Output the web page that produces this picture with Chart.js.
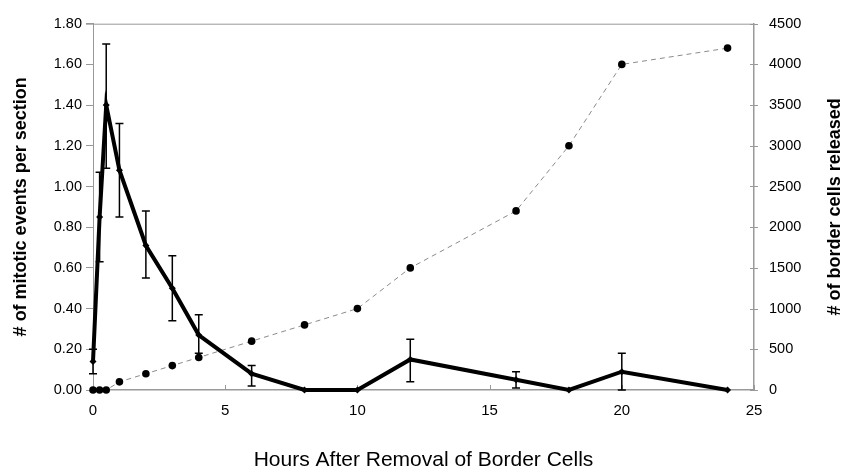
<!DOCTYPE html>
<html><head><meta charset="utf-8">
<script src="https://cdn.jsdelivr.net/npm/chart.js@4.4.1/dist/chart.umd.min.js"></script>
<style>html,body{margin:0;padding:0;background:#fff;} #wrap{width:854px;height:471px;}</style>
</head><body><div id="wrap"><canvas id="c" width="854" height="471"></canvas></div>
<script>
// ---- data ----
const hours = [0, 0.25, 0.5, 1, 2, 3, 4, 6, 8, 10, 12, 16, 18, 20, 24];
const mitoticMean = [0.14, 0.85, 1.40, 1.08, 0.71, 0.50, 0.27, 0.08, 0, 0, 0.15, 0.05, 0, 0.09, 0];
const mitoticHigh = [0.20, 1.07, 1.70, 1.31, 0.88, 0.66, 0.37, 0.12, null, null, 0.25, 0.09, null, 0.18, null];
const mitoticLow  = [0.08, 0.63, 1.09, 0.85, 0.55, 0.34, 0.18, 0.02, null, null, 0.04, 0.01, null, 0.00, null];
const cellsReleased = [0, 0, 0, 100, 200, 300, 400, 600, 800, 1000, 1500, 2200, 3000, 4000, 4200];
const xTickValues = [0, 5, 10, 15, 20, 25];
const leftTickValues = [0, 0.2, 0.4, 0.6, 0.8, 1.0, 1.2, 1.4, 1.6, 1.8];
const rightTickValues = [0, 500, 1000, 1500, 2000, 2500, 3000, 3500, 4000, 4500];
const xTitle = 'Hours After Removal of Border Cells';
const leftTitle = '# of mitotic events per section';
const rightTitle = '# of border cells released';

const FONT = "'Liberation Sans', Arial, sans-serif";
const AXIS = '#999999';

const mitoticPts = hours.map((h, i) => ({x: h, y: mitoticMean[i]}));
const cellsPts = hours.map((h, i) => ({x: h, y: cellsReleased[i]}));

const extras = {
  id: 'extras',
  beforeDatasetsDraw(chart) {
    const {ctx, chartArea: a, scales: {x, y1}} = chart;
    ctx.save();
    ctx.strokeStyle = AXIS;
    ctx.lineWidth = 1;
    // top frame line
    ctx.beginPath();
    ctx.moveTo(a.left - 7, a.top + 0.5);
    ctx.lineTo(a.right, a.top + 0.5);
    ctx.stroke();
    // inside x ticks
    ctx.beginPath();
    xTickValues.forEach(v => {
      const px = Math.round(x.getPixelForValue(v)) + 0.5;
      ctx.moveTo(px, a.bottom);
      ctx.lineTo(px, a.bottom - 5);
    });
    // crossing right ticks
    rightTickValues.forEach(v => {
      const py = Math.round(y1.getPixelForValue(v)) + 0.5;
      ctx.moveTo(a.right - 4, py);
      ctx.lineTo(a.right + 4, py);
    });
    ctx.stroke();
    ctx.restore();
  },
  afterDatasetsDraw(chart) {
    const {ctx, chartArea: a, scales: {x, y}} = chart;
    ctx.save();
    ctx.strokeStyle = '#000';
    ctx.lineWidth = 1.5;
    hours.forEach((h, i) => {
      if (mitoticHigh[i] == null) return;
      const px = x.getPixelForValue(h);
      const pt = y.getPixelForValue(mitoticHigh[i]);
      const pb = y.getPixelForValue(mitoticLow[i]);
      ctx.beginPath();
      ctx.moveTo(px, pt); ctx.lineTo(px, pb);
      ctx.moveTo(px - 4, pt); ctx.lineTo(px + 4, pt);
      ctx.moveTo(px - 4, pb); ctx.lineTo(px + 4, pb);
      ctx.stroke();
    });
    // right axis title, reading bottom-to-top like the reference
    ctx.translate(835, (a.top + a.bottom) / 2);
    ctx.rotate(-Math.PI / 2);
    ctx.fillStyle = '#000';
    ctx.font = "bold 18px " + FONT;
    ctx.textAlign = 'center';
    ctx.textBaseline = 'middle';
    ctx.fillText(rightTitle, 0, 0);
    ctx.restore();
  }
};

new Chart(document.getElementById('c'), {
  type: 'line',
  data: {
    datasets: [
      {
        label: 'Mitotic events',
        data: mitoticPts,
        yAxisID: 'y',
        borderColor: '#000',
        borderWidth: 4,
        pointStyle: 'rectRot',
        pointRadius: 3.5,
        pointBackgroundColor: '#000',
        pointBorderColor: '#000',
        pointBorderWidth: 0,
        tension: 0,
        clip: false
      },
      {
        label: 'Border cells released',
        data: cellsPts,
        yAxisID: 'y1',
        borderColor: '#8a8a8a',
        borderWidth: 1,
        borderDash: [5, 4],
        pointStyle: 'circle',
        pointRadius: 3.8,
        pointBackgroundColor: '#000',
        pointBorderColor: '#000',
        pointBorderWidth: 0,
        tension: 0,
        clip: false
      }
    ]
  },
  options: {
    responsive: false,
    animation: false,
    devicePixelRatio: 1,
    layout: {padding: {top: 19, left: 0, right: 0, bottom: 0}},
    plugins: {legend: {display: false}, tooltip: {enabled: false}},
    scales: {
      x: {
        type: 'linear',
        min: 0, max: 25,
        afterFit(s) { s.height = 81; },
        afterBuildTicks(s) { s.ticks = xTickValues.map(v => ({value: v})); },
        grid: {display: true, drawOnChartArea: false, drawTicks: false},
        border: {display: true, color: AXIS, width: 1.5},
        ticks: {padding: 12, color: '#000', font: {family: FONT, size: 15}, maxRotation: 0},
        title: {display: true, text: xTitle, color: '#000', font: {family: FONT, size: 21}, padding: {top: 0, bottom: -2}}
      },
      y: {
        type: 'linear',
        position: 'left',
        min: 0, max: 1.8,
        afterFit(s) { s.width = 93; },
        afterBuildTicks(s) { s.ticks = leftTickValues.map(v => ({value: v})); },
        grid: {display: true, drawOnChartArea: false, drawTicks: true, tickLength: 7, color: AXIS},
        border: {display: true, color: AXIS, width: 1},
        ticks: {padding: 4, color: '#000', font: {family: FONT, size: 14.5}, callback: v => Number(v).toFixed(2)},
        title: {display: true, text: leftTitle, color: '#000', font: {family: FONT, size: 18, weight: 'bold'}, padding: {top: 10, bottom: 0}}
      },
      y1: {
        type: 'linear',
        position: 'right',
        min: 0, max: 4500,
        afterFit(s) { s.width = 100; },
        afterBuildTicks(s) { s.ticks = rightTickValues.map(v => ({value: v})); },
        grid: {display: true, drawOnChartArea: false, drawTicks: false},
        border: {display: true, color: AXIS, width: 1.5},
        ticks: {padding: 15, color: '#000', font: {family: FONT, size: 14.5}, callback: v => String(v)},
        title: {display: false}
      }
    }
  },
  plugins: [extras]
});
</script>
</body></html>
